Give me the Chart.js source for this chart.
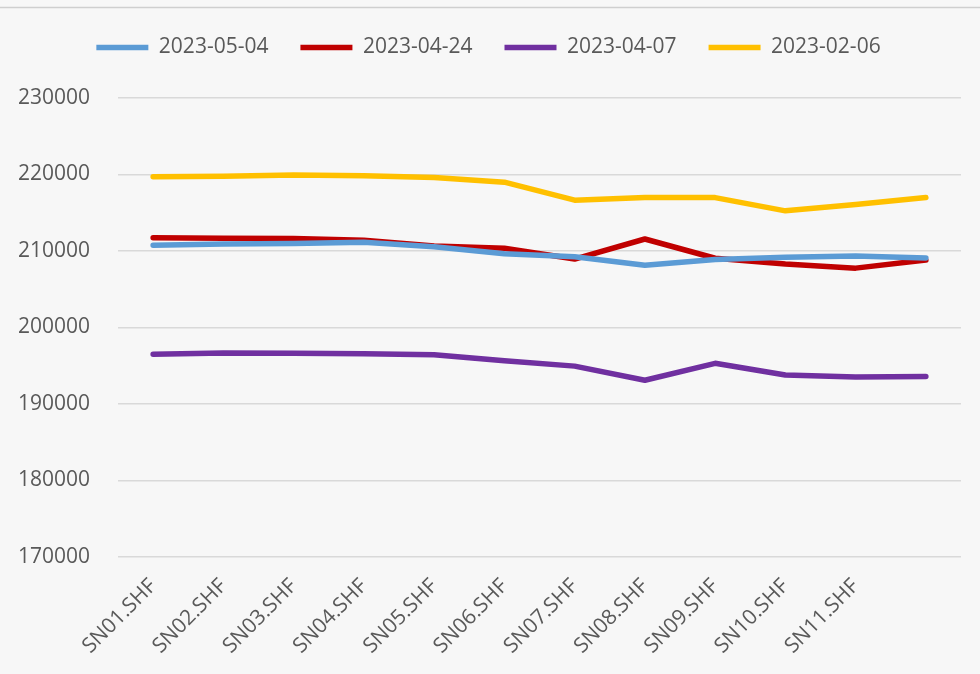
<!DOCTYPE html>
<html>
<head>
<meta charset="utf-8">
<script src="https://cdn.jsdelivr.net/npm/chart.js@4/dist/chart.umd.min.js"></script>
<style>
    html, body { margin: 0; padding: 0; background: #f7f7f7; }
    #wrap { position: relative; width: 980px; height: 674px; }
</style>
</head>
<body>
<div id="wrap"><canvas id="chart" width="980" height="674"></canvas></div>
<script>
// Categories (the last category has no label in the source chart)
const categories = ['SN01.SHF', 'SN02.SHF', 'SN03.SHF', 'SN04.SHF', 'SN05.SHF', 'SN06.SHF',
    'SN07.SHF', 'SN08.SHF', 'SN09.SHF', 'SN10.SHF', 'SN11.SHF', ''];

// Series values
const seriesNames = ['2023-05-04', '2023-04-24', '2023-04-07', '2023-02-06'];
const values0504 = [210750, 210900, 210980, 211150, 210550, 209650, 209250, 208130, 208900, 209170, 209350, 209100];
const values0424 = [211740, 211680, 211640, 211420, 210650, 210350, 208950, 211570, 209050, 208300, 207760, 208820];
const values0407 = [196500, 196670, 196620, 196560, 196450, 195650, 194950, 193100, 195320, 193780, 193530, 193590];
const values0206 = [219720, 219780, 219950, 219850, 219620, 219000, 216650, 217000, 216980, 215250, 216080, 216980];

// Y axis
const yMin = 170000;
const yMax = 230000;
const yStep = 10000;

const colors = ['#5b9bd5', '#c00000', '#7030a0', '#ffc000'];
const seriesValues = [values0504, values0424, values0407, values0206];

// Background plus the thin border line along the top
const backgroundPlugin = {
    id: 'background',
    beforeDraw: function(chart) {
        const ctx = chart.ctx;
        ctx.save();
        ctx.fillStyle = '#f7f7f7';
        ctx.fillRect(0, 0, chart.width, chart.height);
        ctx.strokeStyle = '#cfcfcf';
        ctx.lineWidth = 1.5;
        ctx.beginPath();
        ctx.moveTo(0, 7.5);
        ctx.lineTo(chart.width, 7.5);
        ctx.stroke();
        ctx.restore();
    }
};

// Empty layout box that leaves a gap between the legend and the plot
const legendGapPlugin = {
    id: 'legendGap',
    beforeInit: function(chart) {
        Chart.layouts.addBox(chart, {
            position: 'top',
            weight: 500,
            fullSize: true,
            options: {},
            top: 0, left: 0, right: 0, bottom: 0, width: 0, height: 0,
            update: function(maxWidth) {
                this.width = maxWidth;
                this.height = 30;
            },
            isHorizontal: function() { return true; },
            getPadding: function() { return { top: 0, left: 0, right: 0, bottom: 0 }; },
            draw: function() {}
        });
    }
};

const ctx = document.getElementById('chart').getContext('2d');
new Chart(ctx, {
    type: 'line',
    data: {
        labels: categories,
        datasets: seriesNames.map(function(name, i) {
            return {
                label: name,
                data: seriesValues[i],
                borderColor: colors[i],
                backgroundColor: colors[i],
                borderWidth: 5.5,
                borderCapStyle: 'round',
                borderJoinStyle: 'round',
                pointRadius: 0,
                pointHoverRadius: 0,
                tension: 0,
                fill: false
            };
        })
    },
    options: {
        responsive: false,
        animation: false,
        layout: {
            padding: { left: 16, right: 19, top: 5, bottom: 0 }
        },
        scales: {
            x: {
                type: 'category',
                offset: true,
                grid: { display: false },
                border: { display: false },
                ticks: {
                    autoSkip: false,
                    minRotation: 45,
                    maxRotation: 45,
                    padding: 9,
                    color: '#595959',
                    font: { family: 'Open Sans', size: 21 }
                },
                afterFit: function(scale) {
                    scale.height = 117;
                }
            },
            y: {
                min: yMin,
                max: yMax,
                border: { display: false },
                grid: {
                    color: '#d9d9d9',
                    lineWidth: 1.5,
                    drawTicks: false
                },
                ticks: {
                    stepSize: yStep,
                    padding: 28,
                    color: '#595959',
                    font: { family: 'Open Sans', size: 21 },
                    callback: function(value) {
                        return String(value);
                    }
                },
                afterFit: function(scale) {
                    scale.width = 102;
                }
            }
        },
        plugins: {
            legend: {
                position: 'top',
                labels: {
                    usePointStyle: true,
                    pointStyle: 'line',
                    pointStyleWidth: 52,
                    boxHeight: 5,
                    padding: 32,
                    color: '#595959',
                    font: { family: 'Open Sans', size: 21 }
                }
            },
            tooltip: { enabled: false }
        }
    },
    plugins: [backgroundPlugin, legendGapPlugin]
});
</script>
</body>
</html>
